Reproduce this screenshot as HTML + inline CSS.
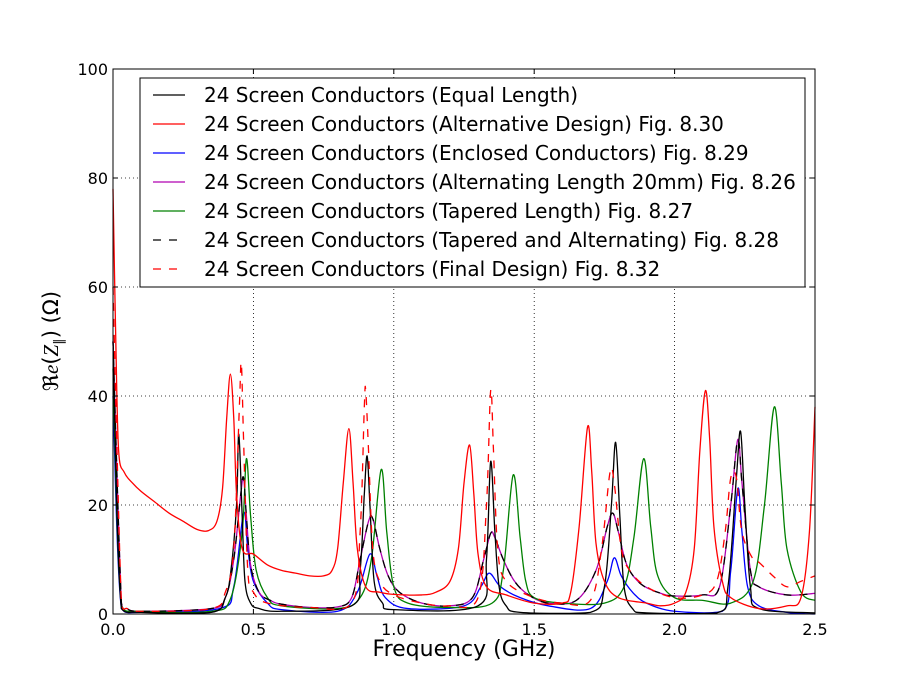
<!DOCTYPE html>
<html><head><meta charset="utf-8"><style>
body{margin:0;background:#fff;font-family:"Liberation Sans","DejaVu Sans",sans-serif}
svg text{font-family:"DejaVu Sans","Liberation Sans",sans-serif}
</style></head><body>
<svg id="chart" width="905" height="682" xmlns="http://www.w3.org/2000/svg">
<rect width="905" height="682" fill="#fff"/>
<g id="grid"></g><g id="series"></g><g id="axes"></g><g id="legend"></g>
</svg>
<script>
const xTicks=[0,0.5,1,1.5,2,2.5];
const xTickLabels=["0.0","0.5","1.0","1.5","2.0","2.5"];
const yTicks=[0,20,40,60,80,100];
const yTickLabels=["0","20","40","60","80","100"];
const seriesNames=["24 Screen Conductors (Equal Length)","24 Screen Conductors (Alternative Design) Fig. 8.30","24 Screen Conductors (Enclosed Conductors) Fig. 8.29","24 Screen Conductors (Alternating Length 20mm) Fig. 8.26","24 Screen Conductors (Tapered Length) Fig. 8.27","24 Screen Conductors (Tapered and Alternating) Fig. 8.28","24 Screen Conductors (Final Design) Fig. 8.32"];
const seriesColors=["#000","#f00","#00f","#b000b0","#008000","#000","#f00"];
const equalLength=[[0,50],[0.03,1],[0.1,0.3],[0.35,0.3],[0.4,3],[0.42,8],[0.44,20],[0.448,33],[0.46,18],[0.47,6],[0.49,2],[0.52,1],[0.6,0.5],[0.85,1.5],[0.88,8],[0.895,22],[0.905,29],[0.915,20],[0.93,6],[0.96,2],[1.0,0.8],[1.3,1.5],[1.33,10],[1.345,28],[1.36,15],[1.375,5],[1.4,1.5],[1.45,0.3],[1.7,0.3],[1.75,5],[1.775,20],[1.79,31.5],[1.805,18],[1.82,5],[1.85,1],[1.9,0.2],[2.15,0.2],[2.19,5],[2.22,25],[2.235,33.5],[2.25,20],[2.27,5],[2.3,1],[2.5,0.2]];
const alternativeDesign=[[0,78],[0.01,50],[0.02,30],[0.04,26],[0.07,24],[0.1,22.5],[0.15,20.5],[0.2,18.5],[0.25,17],[0.3,15.5],[0.34,15.3],[0.37,17],[0.39,23],[0.405,36],[0.418,44],[0.43,36],[0.44,22],[0.46,12],[0.5,11],[0.55,9],[0.6,8],[0.65,7.5],[0.7,7],[0.75,7],[0.78,8],[0.8,12],[0.82,24],[0.84,34],[0.855,24],[0.87,12],[0.9,5],[0.95,4],[1.0,3.6],[1.1,3.5],[1.15,4],[1.2,6],[1.23,12],[1.25,24],[1.27,31],[1.285,22],[1.3,11],[1.33,5],[1.4,3.5],[1.5,2],[1.6,2],[1.63,4],[1.66,16],[1.69,34.3],[1.705,26],[1.72,13],[1.75,6],[1.8,3],[1.9,2],[1.95,1.5],[2.0,2],[2.04,4],[2.07,12],[2.09,30],[2.11,41],[2.125,32],[2.14,16],[2.17,6],[2.2,3],[2.3,1],[2.4,1.5],[2.45,3],[2.48,15],[2.5,38]];
const enclosed=[[0,40],[0.03,1],[0.1,0.3],[0.38,1],[0.43,5],[0.465,18.5],[0.48,12],[0.5,6],[0.55,2],[0.6,0.8],[0.8,0.5],[0.87,4],[0.915,11],[0.94,7],[0.97,3],[1.05,1],[1.25,1.5],[1.31,5],[1.34,7.5],[1.38,5],[1.45,3],[1.55,1.5],[1.7,1],[1.76,6],[1.785,10.3],[1.81,7],[1.85,4],[1.9,2],[2.0,0.5],[2.17,0.5],[2.2,8],[2.225,23],[2.24,15],[2.26,5],[2.3,1.5],[2.4,0.3],[2.5,0]];
const alternating=[[0,50],[0.03,2],[0.05,1],[0.1,0.5],[0.35,1],[0.4,3],[0.43,10],[0.455,22],[0.465,25],[0.475,18],[0.49,9],[0.52,4],[0.56,2.5],[0.6,1.8],[0.7,1.2],[0.8,1.3],[0.85,3],[0.88,10],[0.91,17],[0.925,17.5],[0.95,12],[0.98,7],[1.02,4],[1.1,2],[1.2,1.5],[1.28,3],[1.32,10],[1.345,14.8],[1.36,14],[1.39,10],[1.43,6],[1.48,3.5],[1.55,2],[1.65,2.5],[1.72,8],[1.76,16],[1.78,18.5],[1.8,15],[1.83,9],[1.88,5.5],[1.95,3.8],[2.0,3.3],[2.1,3.5],[2.16,5],[2.2,20],[2.225,32],[2.24,24],[2.27,8],[2.3,5],[2.4,3.5],[2.5,3.8]];
const tapered=[[0,45],[0.03,1.5],[0.1,0.5],[0.35,0.5],[0.42,3],[0.46,15],[0.475,28.5],[0.49,18],[0.51,8],[0.55,3],[0.6,1.5],[0.8,1],[0.88,3],[0.92,10],[0.955,26.5],[0.975,15],[1.0,5],[1.05,2],[1.2,1.2],[1.35,2],[1.39,8],[1.425,25.5],[1.45,14],[1.47,6],[1.5,3],[1.6,2],[1.75,2],[1.82,5],[1.855,14],[1.89,28.5],[1.915,16],[1.94,7],[2.0,3],[2.1,2.5],[2.2,2],[2.28,6],[2.32,20],[2.355,38],[2.38,24],[2.4,12],[2.45,4],[2.5,2.5]];
const taperedAlternating=alternating.map(p=>[p[0],p[1]]);
const finalDesign=[[0,60],[0.03,2],[0.05,1],[0.1,0.5],[0.35,1],[0.4,4],[0.43,12],[0.45,38],[0.457,46],[0.465,32],[0.48,8],[0.5,4],[0.55,2],[0.7,1.2],[0.85,2],[0.88,15],[0.895,38],[0.9,41],[0.91,30],[0.925,12],[0.95,6],[1.0,3.5],[1.1,2],[1.2,1.5],[1.3,3],[1.33,20],[1.345,41],[1.355,30],[1.37,12],[1.4,6],[1.5,3],[1.6,2],[1.7,2.5],[1.74,12],[1.77,26],[1.785,24],[1.81,12],[1.84,8],[1.9,5],[2.0,3],[2.1,3.5],[2.15,6],[2.18,15],[2.2,25],[2.22,25],[2.24,15],[2.28,10],[2.3,9.5],[2.35,7],[2.4,5],[2.45,6],[2.5,7]];
const seriesData=[equalLength,alternativeDesign,enclosed,alternating,tapered,taperedAlternating,finalDesign];
const seriesDash=["","","","","","8,8","8,8"];
const seriesKeys=["equal-length","alternative-design","enclosed-conductors","alternating-length","tapered-length","tapered-alternating","final-design"];

const L=113,R=815,T=69,B=614;
const X=v=>L+(v-0)/2.5*(R-L);
const Y=v=>B-(v-0)/100*(B-T);
const NS="http://www.w3.org/2000/svg";
function mk(tag,attrs,parent){const e=document.createElementNS(NS,tag);for(const k in attrs)e.setAttribute(k,attrs[k]);parent.appendChild(e);return e;}
const grid=document.getElementById('grid'),axes=document.getElementById('axes'),ser=document.getElementById('series'),leg=document.getElementById('legend');
xTicks.forEach((t,i)=>{
 if(i>0&&i<xTicks.length-1){const g=mk('line',{x1:X(t),x2:X(t),y1:T,y2:B,stroke:'#000','stroke-width':0.8,'stroke-dasharray':'1,3'},grid);
 
 }
 mk('line',{x1:X(t),x2:X(t),y1:B,y2:B-5,stroke:'#000'},axes);
 mk('line',{x1:X(t),x2:X(t),y1:T,y2:T+5,stroke:'#000'},axes);
 const tx=mk('text',{x:X(t),y:B+21,'font-size':16,'text-anchor':'middle'},axes);tx.textContent=xTickLabels[i];
 
 
});
yTicks.forEach((t,i)=>{
 if(i>0&&i<yTicks.length-1){const g=mk('line',{x1:L,x2:R,y1:Y(t),y2:Y(t),stroke:'#000','stroke-width':0.8,'stroke-dasharray':'1,3'},grid);
 
 }
 mk('line',{x1:L,x2:L+5,y1:Y(t),y2:Y(t),stroke:'#000'},axes);
 mk('line',{x1:R,x2:R-5,y1:Y(t),y2:Y(t),stroke:'#000'},axes);
 const tx=mk('text',{x:L-5,y:Y(t)+6,'font-size':16,'text-anchor':'end'},axes);tx.textContent=yTickLabels[i];
 
 
});
function pathD(pts){
 const P=pts.map(p=>[X(p[0]),Y(p[1])]);let d='M'+P[0][0]+','+P[0][1];
 for(let i=0;i<P.length-1;i++){const p0=P[Math.max(0,i-1)],p1=P[i],p2=P[i+1],p3=P[Math.min(P.length-1,i+2)];
  const c1x=p1[0]+(p2[0]-p0[0])/6,c1y=Math.min(B,p1[1]+(p2[1]-p0[1])/6),c2x=p2[0]-(p3[0]-p1[0])/6,c2y=Math.min(B,p2[1]-(p3[1]-p1[1])/6);
  d+=' C'+c1x+','+c1y+' '+c2x+','+c2y+' '+p2[0]+','+p2[1];}
 return d;}
const order=[2,3,4,0,5,1,6];
order.forEach(i=>{
 const p=mk('path',{d:pathD(seriesData[i]),fill:'none',stroke:seriesColors[i],'stroke-width':1.3,'stroke-dasharray':seriesDash[i]},ser);
 
 
});
const frame=mk('rect',{x:L,y:T,width:R-L,height:B-T,fill:'none',stroke:'#000','stroke-width':1},axes);


const lb=mk('rect',{x:140,y:78,width:665,height:209,fill:'#fff',stroke:'#000','stroke-width':1},leg);


seriesNames.forEach((n,i)=>{
 const y=95+i*29;
 const g=mk('g',{},leg);
 
 
 mk('line',{x1:153,x2:185,y1:y,y2:y,stroke:seriesColors[i],'stroke-width':1.3,'stroke-dasharray':seriesDash[i]},g);
 const t=mk('text',{x:204,y:y+7,'font-size':20},g);t.textContent=n;
});
const xl=mk('text',{x:464,y:656,'font-size':22,'text-anchor':'middle'},axes);xl.textContent='Frequency (GHz)';


const yl=mk('text',{x:0,y:0,'font-size':21,'text-anchor':'middle',transform:'translate(58,341) rotate(-90)'},axes);
yl.innerHTML='<tspan font-family="Liberation Serif,serif">ℜ</tspan><tspan font-style="italic" font-family="Liberation Serif,serif">e</tspan>(<tspan font-style="italic" font-family="Liberation Serif,serif">Z</tspan><tspan font-size="13" dy="5">∥</tspan><tspan dy="-5">) (Ω)</tspan>';


</script>
</body></html>
